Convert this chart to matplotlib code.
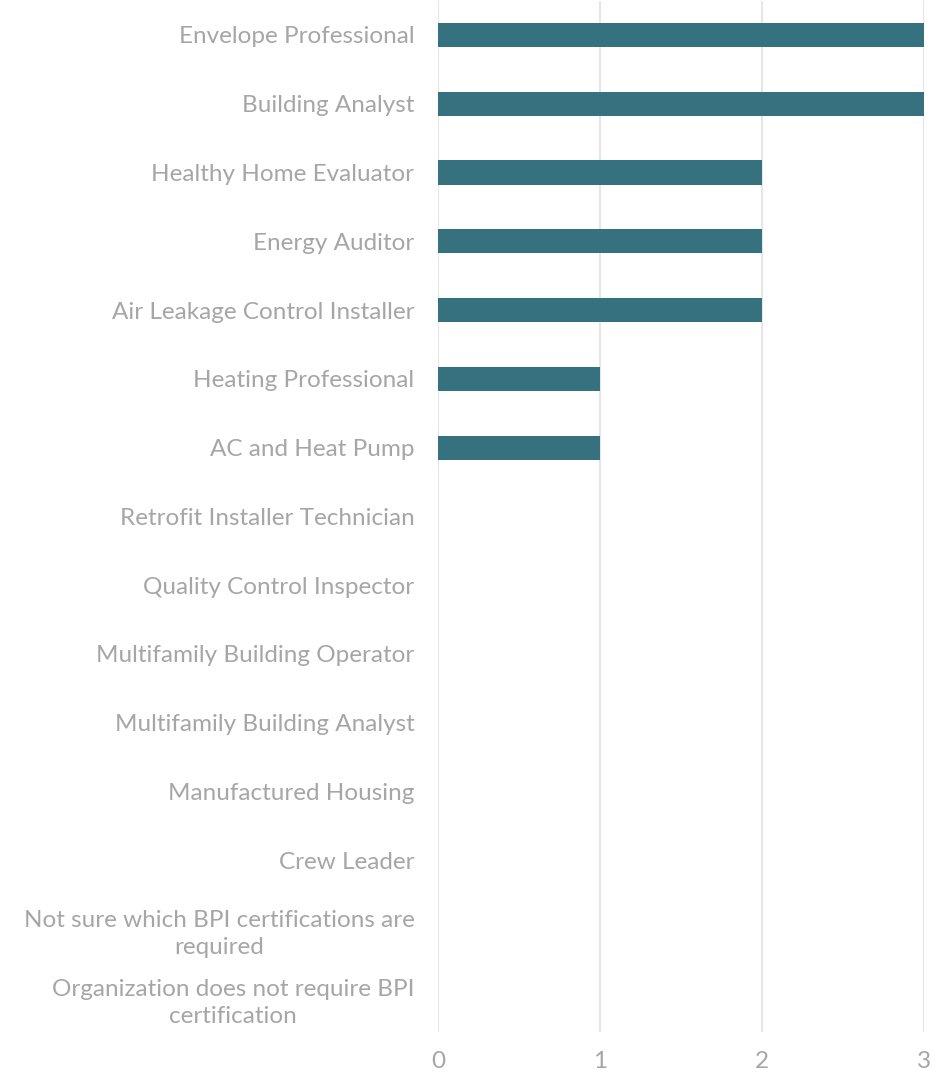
import matplotlib
matplotlib.use("Agg")
import matplotlib.pyplot as plt

categories = [
    "Envelope Professional",
    "Building Analyst",
    "Healthy Home Evaluator",
    "Energy Auditor",
    "Air Leakage Control Installer",
    "Heating Professional",
    "AC and Heat Pump",
    "Retrofit Installer Technician",
    "Quality Control Inspector",
    "Multifamily Building Operator",
    "Multifamily Building Analyst",
    "Manufactured Housing",
    "Crew Leader",
    "Not sure which BPI certifications are\nrequired",
    "Organization does not require BPI\ncertification",
]
values = [3, 3, 2, 2, 2, 1, 1, 0, 0, 0, 0, 0, 0, 0, 0]
xticks = [0, 1, 2, 3]

plt.rcParams['font.family'] = ['Lato', 'DejaVu Sans']
fig = plt.figure(figsize=(9.48, 10.81), dpi=100)
ax = fig.add_axes([438/948, 1-1032/1081, 486/948, (1032-0.6)/1081])

y = list(range(len(categories)))
ax.barh(y, values, height=0.35, color="#36717f", zorder=3)
ax.set_ylim(len(categories)-0.5, -0.5)
ax.set_xlim(0, 3)
ax.set_xticks(xticks)
ax.set_xticklabels([str(t) for t in xticks])
ax.set_yticks(y)
ax.set_yticklabels(categories, ha="right", multialignment="center",
                   linespacing=1.35)
for s in ax.spines.values():
    s.set_visible(False)
ax.grid(axis="x", color="#e6e6e6", linewidth=1.5, zorder=0)
ax.tick_params(axis="both", length=0, colors="#a6a6a6", labelsize=17.5)
ax.tick_params(axis="x", pad=14)
ax.tick_params(axis="y", pad=17)
fig.savefig("out.png", dpi=100)
